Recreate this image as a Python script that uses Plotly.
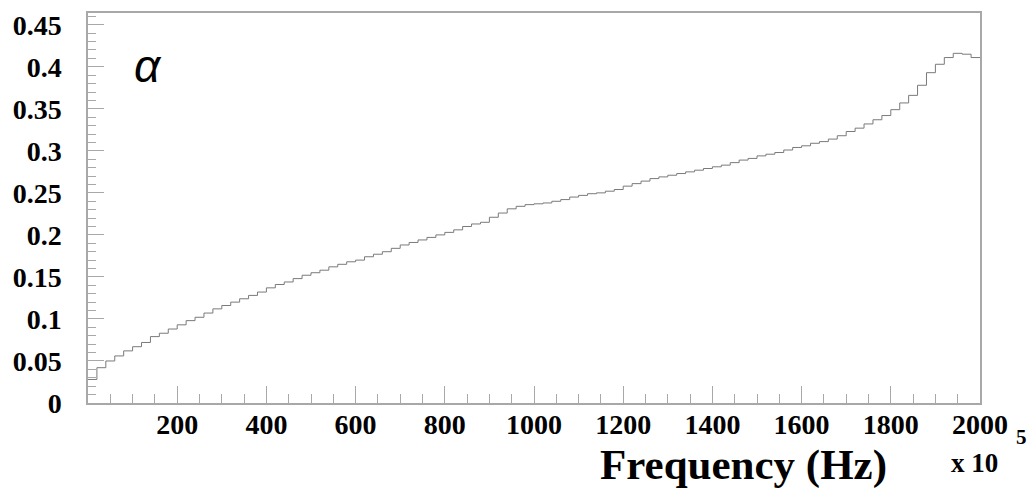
import plotly.graph_objects as go

# Histogram bins (Hz, x1e5 units on axis) - bin width 20
bin_left_edges = list(range(0, 2000, 20))
alpha_values = [
    0.028, 0.042, 0.050, 0.056, 0.062, 0.067, 0.072, 0.079, 0.083, 0.088,
    0.093, 0.098, 0.102, 0.107, 0.112, 0.116, 0.120, 0.124, 0.128, 0.132,
    0.137, 0.141, 0.144, 0.148, 0.152, 0.155, 0.158, 0.162, 0.165, 0.168,
    0.170, 0.174, 0.177, 0.180, 0.184, 0.188, 0.191, 0.194, 0.197, 0.200,
    0.203, 0.206, 0.210, 0.213, 0.215, 0.221, 0.226, 0.231, 0.234, 0.236,
    0.237, 0.238, 0.240, 0.242, 0.245, 0.247, 0.249, 0.250, 0.252, 0.254,
    0.258, 0.261, 0.264, 0.267, 0.269, 0.271, 0.273, 0.275, 0.277, 0.279,
    0.281, 0.283, 0.286, 0.289, 0.291, 0.294, 0.296, 0.298, 0.301, 0.304,
    0.306, 0.309, 0.311, 0.314, 0.318, 0.323, 0.327, 0.332, 0.337, 0.342,
    0.349, 0.357, 0.366, 0.378, 0.393, 0.403, 0.411, 0.416, 0.415, 0.411,
]
x_tick_values = [200, 400, 600, 800, 1000, 1200, 1400, 1600, 1800, 2000]
x_tick_labels = ["200", "400", "600", "800", "1000", "1200", "1400", "1600", "1800", "2000"]
y_tick_values = [0, 0.05, 0.1, 0.15, 0.2, 0.25, 0.3, 0.35, 0.4, 0.45]
y_tick_labels = ["0", "0.05", "0.1", "0.15", "0.2", "0.25", "0.3", "0.35", "0.4", "0.45"]

x_step = bin_left_edges + [2000]
y_step = alpha_values + [alpha_values[-1]]

fig = go.Figure()
fig.add_trace(go.Scatter(
    x=x_step, y=y_step, mode="lines", line_shape="hv",
    line=dict(color="#7a7a7a", width=1), hoverinfo="skip", showlegend=False,
))

frame = "#a8a8a8"
serif = "Liberation Serif"
tickfont = dict(family=serif, size=28, color="black", weight="bold")

fig.update_xaxes(
    range=[0, 2000], showgrid=False, zeroline=False, automargin=False,
    showline=True, linecolor=frame, linewidth=1.5, mirror=True,
    ticks="inside", ticklen=17, tickcolor=frame, tickwidth=1,
    tickvals=x_tick_values, ticktext=x_tick_labels, tickfont=tickfont,
    ticklabelstandoff=-4,
    minor=dict(dtick=50, tick0=0, ticks="inside", ticklen=9, tickcolor=frame, tickwidth=1),
)
fig.update_yaxes(
    range=[0, 0.464], showgrid=False, zeroline=False, automargin=False,
    showline=True, linecolor=frame, linewidth=1.5, mirror=True,
    ticks="inside", ticklen=16, tickcolor=frame, tickwidth=1,
    tickvals=y_tick_values, ticktext=y_tick_labels, tickfont=tickfont,
    ticklabelstandoff=19,
    minor=dict(dtick=0.01, tick0=0, ticks="inside", ticklen=8, tickcolor=frame, tickwidth=1),
)

fig.add_annotation(
    text="Frequency (Hz)", xref="paper", yref="paper", x=0.735, y=-0.159,
    xanchor="center", yanchor="middle", showarrow=False,
    font=dict(family=serif, size=43, color="black", weight="bold"),
)
fig.add_annotation(
    text="x 10", xref="paper", yref="paper", x=0.994, y=-0.154,
    xanchor="center", yanchor="middle", showarrow=False,
    font=dict(family=serif, size=27, color="black", weight="bold"),
)
fig.add_annotation(
    text="5", xref="paper", yref="paper", x=1.047, y=-0.087,
    xanchor="center", yanchor="middle", showarrow=False,
    font=dict(family=serif, size=21, color="black", weight="bold"),
)
fig.add_annotation(
    text="<i>α</i>", xref="paper", yref="paper", x=0.067, y=0.865,
    xanchor="center", yanchor="middle", showarrow=False,
    font=dict(family="Liberation Sans", size=46, color="black"),
)

fig.update_layout(
    width=1030, height=491,
    margin=dict(l=88, r=50, t=13, b=88, autoexpand=False),
    plot_bgcolor="white", paper_bgcolor="white",
)

fig.write_html(
    "out.html",
    config={"displayModeBar": False},
    post_script="document.body.style.margin='0px';document.body.style.overflow='hidden';",
)
